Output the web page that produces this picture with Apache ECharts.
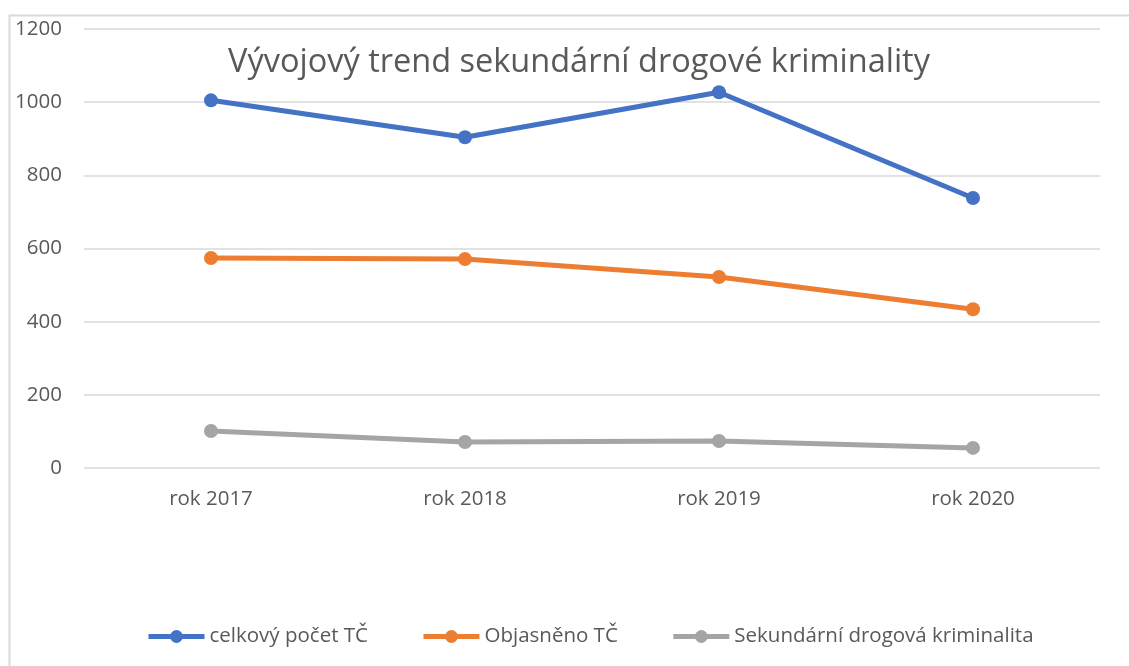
<!DOCTYPE html>
<html lang="cs">
<head>
<meta charset="UTF-8">
<title>Vývojový trend sekundární drogové kriminality</title>
<script src="https://cdn.jsdelivr.net/npm/echarts@6/dist/echarts.min.js"></script>
<style>
  html, body { margin: 0; padding: 0; background: #fff; }
  #chart { width: 1129px; height: 666px; }
</style>
</head>
<body>
<div id="chart"></div>
<script type="text/javascript">
  // data
  var roky = ['rok 2017', 'rok 2018', 'rok 2019', 'rok 2020'];
  var celkovy = [1005, 904, 1027, 738];
  var objasneno = [574, 571, 522, 434];
  var sekundarni = [101, 71, 74, 55];
  var nazvy = ['celkový počet TČ', 'Objasněno TČ', 'Sekundární drogová kriminalita'];
  var barvy = ['#4472c4', '#ed7d31', '#a5a5a5'];

  var font = '"Open Sans", "Noto Sans", sans-serif';
  var myChart = echarts.init(document.getElementById('chart'));

  function serie(i, data) {
    return {
      name: nazvy[i],
      type: 'line',
      data: data,
      symbol: 'circle',
      symbolSize: 14,
      lineStyle: { width: 5, color: barvy[i] },
      itemStyle: { color: barvy[i] }
    };
  }

  myChart.setOption({
    animation: false,
    title: {
      text: 'Vývojový trend sekundární drogové kriminality',
      left: 223,
      top: 41,
      textStyle: { fontFamily: font, fontSize: 32.5, fontWeight: 'normal', color: '#595959' }
    },
    graphic: [{
      type: 'rect',
      shape: { x: 9.5, y: 15.5, width: 1300, height: 800 },
      style: { fill: null, stroke: '#d9d9d9', lineWidth: 2 },
      silent: true
    }],
    legend: {
      data: nazvy,
      bottom: 14,
      left: 141,
      itemWidth: 56,
      itemHeight: 16,
      itemGap: 53,
      lineStyle: { width: 5 },
      textStyle: { fontFamily: font, fontSize: 20.5, color: '#595959' }
    },
    grid: { left: 84, right: 29, top: 29, bottom: 198 },
    xAxis: {
      type: 'category',
      data: roky,
      axisLine: { show: false },
      axisTick: { show: false },
      axisLabel: { fontFamily: font, fontSize: 20.5, color: '#595959', margin: 21 }
    },
    yAxis: {
      type: 'value',
      min: 0,
      max: 1200,
      interval: 200,
      axisLine: { show: false },
      axisTick: { show: false },
      axisLabel: {
        fontFamily: font, fontSize: 20.5, color: '#595959', margin: 22,
        formatter: function (v) { return String(v); }
      },
      splitLine: { lineStyle: { color: '#d9d9d9', width: 1.5 } }
    },
    series: [
      serie(0, celkovy),
      serie(1, objasneno),
      serie(2, sekundarni)
    ]
  });
</script>
</body>
</html>
